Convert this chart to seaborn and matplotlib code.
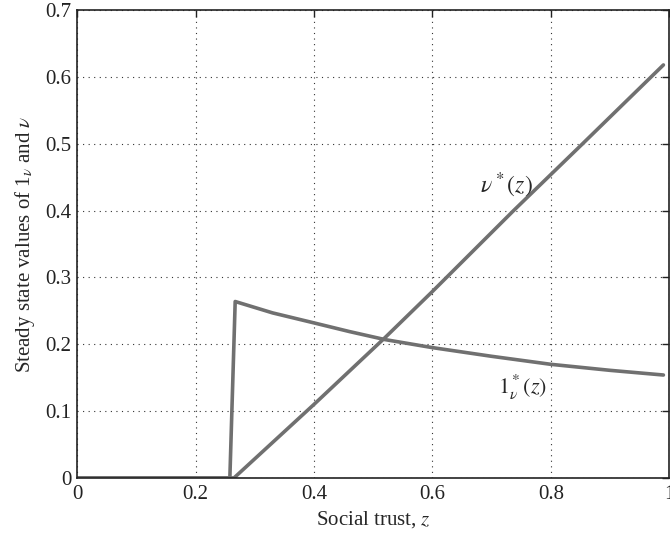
import matplotlib
matplotlib.use("Agg")
import matplotlib.pyplot as plt
import numpy as np
import pandas as pd
import seaborn as sns

# values
z_nu = [0.0, 0.265, 0.40, 0.46, 0.52, 0.60, 0.737, 0.85, 0.99]
nu_star = [0.0, 0.0, 0.110, 0.160, 0.210, 0.279, 0.400, 0.497, 0.618]

z_l = [0.0, 0.258, 0.267, 0.33, 0.40, 0.46, 0.52, 0.60, 0.70, 0.80, 0.90, 0.99]
l_star = [0.0, 0.0, 0.264, 0.247, 0.232, 0.219, 0.207, 0.195, 0.182, 0.170, 0.161, 0.154]

x_ticks = [0, 0.2, 0.4, 0.6, 0.8, 1.0]
x_ticklabels = ["0", "0.2", "0.4", "0.6", "0.8", "1"]
y_ticks = [0, 0.1, 0.2, 0.3, 0.4, 0.5, 0.6, 0.7]
y_ticklabels = ["0", "0.1", "0.2", "0.3", "0.4", "0.5", "0.6", "0.7"]

sns.set_style("white")
plt.rcParams["font.family"] = ["Liberation Serif", "DejaVu Serif"]
plt.rcParams["mathtext.fontset"] = "stix"

df_nu = pd.DataFrame({"z": z_nu, "v": nu_star})
df_l = pd.DataFrame({"z": z_l, "v": l_star})

fig = plt.figure(figsize=(6.7, 5.34), dpi=100)
ax = fig.add_axes([0.115, 0.105, 0.884, 0.876])

line_col = "#707070"
sns.lineplot(data=df_l, x="z", y="v", ax=ax, color=line_col, linewidth=2.6, estimator=None, sort=False)
sns.lineplot(data=df_nu, x="z", y="v", ax=ax, color=line_col, linewidth=2.6, estimator=None, sort=False)

ax.set_xlim(0, 1)
ax.set_ylim(0, 0.7)
ax.set_xticks(x_ticks)
ax.set_xticklabels(x_ticklabels)
ax.set_yticks(y_ticks)
ax.set_yticklabels(y_ticklabels)
ax.tick_params(direction="in", length=5, width=1, labelsize=15, colors="#222222",
               top=True, right=True)
ax.tick_params(axis="x", pad=5)
ax.tick_params(axis="y", pad=4)
ax.grid(True, linestyle=(0, (1, 4)), color="#333333", linewidth=0.8)
for s in ax.spines.values():
    s.set_visible(True)
    s.set_color("#222222")
    s.set_linewidth(1.2)

ax.set_xlabel("Social trust, $z$", fontsize=15, labelpad=4)
ax.set_ylabel(r"Steady state values of 1$_\nu$ and $\nu$", fontsize=15, labelpad=6)

ax.text(0.68, 0.438, r"$\nu^*(z)$", fontsize=17, ha="left", va="center")
ax.text(0.71, 0.135, r"$\mathrm{1}^*_\nu(z)$", fontsize=16, ha="left", va="center")

fig.savefig("out.png", dpi=100)
